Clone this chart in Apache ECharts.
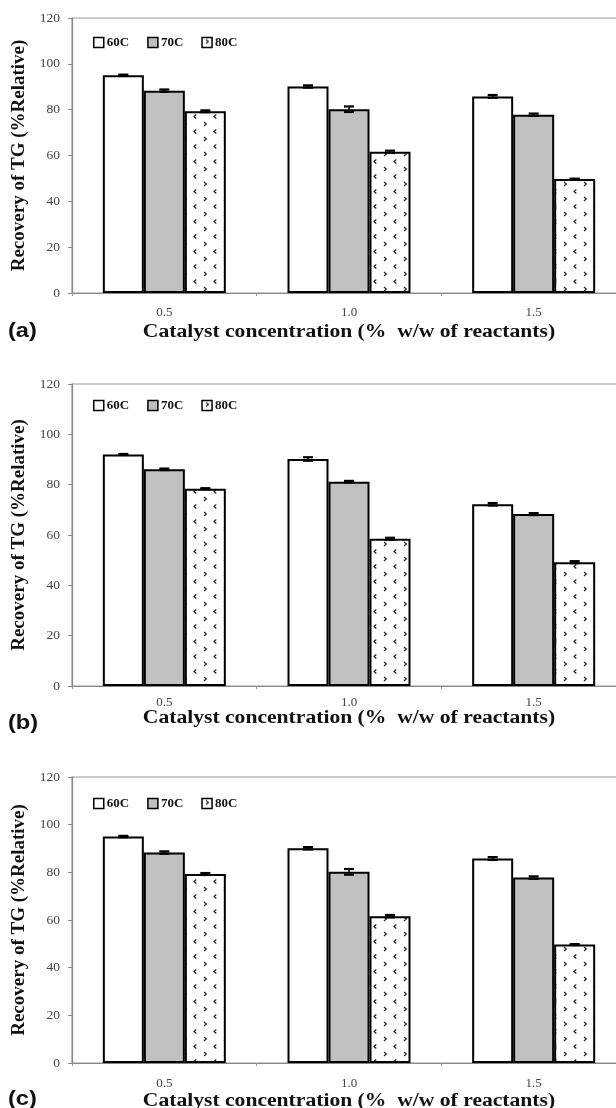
<!DOCTYPE html>
<html><head><meta charset="utf-8">
<script src="https://cdn.jsdelivr.net/npm/echarts@6/dist/echarts.min.js"></script>
<style>html,body{margin:0;padding:0;background:#fff}#c{width:616px;height:1108px}</style>
</head><body><div id="c"></div>
<script>
// ---- data ----
const categories = ['0.5', '1.0', '1.5'];
const seriesNames = ['60C', '70C', '80C'];
const yMin = 0, yMax = 120, yStep = 20;
const panelLabels = ['(a)', '(b)', '(c)'];
const xTitle = 'Catalyst concentration (%  w/w of reactants)';
const yTitle = 'Recovery of TG (%Relative)';

// panel (a)
const a60 = [95.0, 90.1, 85.8];
const a70 = [88.3, 80.2, 77.8];
const a80 = [79.3, 61.6, 49.7];
const a60Err = [0.3, 0.5, 0.6];
const a70Err = [0.5, 1.2, 0.5];
const a80Err = [0.4, 0.5, 0.2];
// panel (b)
const b60 = [92.0, 90.2, 72.2];
const b70 = [86.1, 81.2, 68.3];
const b80 = [78.4, 58.5, 49.2];
const b60Err = [0.2, 0.7, 0.5];
const b70Err = [0.3, 0.3, 0.4];
const b80Err = [0.2, 0.4, 0.4];
// panel (c)
const c60 = [95.0, 90.1, 85.8];
const c70 = [88.3, 80.2, 77.8];
const c80 = [79.3, 61.6, 49.7];
const c60Err = [0.3, 0.5, 0.6];
const c70Err = [0.5, 1.2, 0.5];
const c80Err = [0.4, 0.5, 0.2];

// ---- styling ----
const SERIF = 'Liberation Serif';
const GRID_LEFT = 72, GRID_W = 554;
const grids = [
  {top: 18, height: 275, titleY: 332, legendTop: 31, labelY: 331, catMargin: 13},
  {top: 384, height: 302, titleY: 718, legendTop: 394, labelY: 723, catMargin: 10},
  {top: 777, height: 286, titleY: 1101, legendTop: 792, labelY: 1099, catMargin: 14}
];
const BAR_W = 41;

function makePattern() {
  const c = document.createElement('canvas');
  c.width = 20; c.height = 15;
  const g = c.getContext('2d');
  g.fillStyle = '#fff'; g.fillRect(0, 0, 20, 15);
  g.strokeStyle = '#222'; g.lineWidth = 1.2;
  g.beginPath(); g.moveTo(4, 2); g.lineTo(6.3, 4); g.lineTo(4, 6); g.stroke();
  g.beginPath(); g.moveTo(16.3, 9.5); g.lineTo(14, 11.5); g.lineTo(16.3, 13.5); g.stroke();
  return c;
}
const pattern = {image: makePattern(), repeat: 'repeat'};
const fills = ['#ffffff', '#c0c0c0', pattern];

const panels = [
  {vals: [a60, a70, a80], errs: [a60Err, a70Err, a80Err]},
  {vals: [b60, b70, b80], errs: [b60Err, b70Err, b80Err]},
  {vals: [c60, c70, c80], errs: [c60Err, c70Err, c80Err]}
];

function errSeries(vals, errs, k, gi) {
  const offset = (k - 1) * BAR_W;
  return {
    type: 'custom', xAxisIndex: gi, yAxisIndex: gi, z: 10, silent: true,
    data: vals.map((v, i) => [i, v, errs[i]]),
    renderItem: function (params, api) {
      const ci = api.value(0), v = api.value(1), e = api.value(2);
      const top = api.coord([ci, v + e]), bot = api.coord([ci, v - e]);
      const x = top[0] + offset, hw = 5;
      return {type: 'group', children: [
        {type: 'line', shape: {x1: x, y1: top[1], x2: x, y2: bot[1]}, style: {stroke: '#000', lineWidth: 1.5}},
        {type: 'line', shape: {x1: x - hw, y1: top[1], x2: x + hw, y2: top[1]}, style: {stroke: '#000', lineWidth: 2.2}},
        {type: 'line', shape: {x1: x - hw, y1: bot[1], x2: x + hw, y2: bot[1]}, style: {stroke: '#000', lineWidth: 2.2}}
      ]};
    }
  };
}

const option = {
  animation: false,
  backgroundColor: '#fff',
  grid: grids.map(g => ({left: GRID_LEFT, width: GRID_W, top: g.top, height: g.height, show: true,
    outerBoundsMode: 'none', containLabel: false,
    borderColor: '#999', borderWidth: 1.2, backgroundColor: 'transparent'})),
  xAxis: grids.map((g, i) => ({
    type: 'category', gridIndex: i, data: categories,
    axisLine: {lineStyle: {color: '#888', width: 1.2}},
    axisTick: {show: true, length: 3, lineStyle: {color: '#999'}},
    axisLabel: {fontFamily: SERIF, fontSize: 13, color: '#444', margin: g.catMargin}
  })),
  yAxis: grids.map((g, i) => ({
    type: 'value', gridIndex: i, min: yMin, max: yMax, interval: yStep,
    name: yTitle, nameLocation: 'middle', nameGap: 43,
    nameTextStyle: {fontFamily: SERIF, fontWeight: 'bold', fontSize: 19, color: '#111'},
    axisLine: {show: true, lineStyle: {color: '#888', width: 1.2}},
    axisTick: {show: true, length: 4, lineStyle: {color: '#888'}},
    splitLine: {show: false},
    axisLabel: {fontFamily: SERIF, fontSize: 13.5, color: '#444', margin: 12}
  })),
  legend: grids.map(g => ({
    left: 88, top: g.legendTop, itemWidth: 10, itemHeight: 10, itemGap: 18,
    icon: 'rect', data: seriesNames,
    itemStyle: {borderColor: '#000', borderWidth: 1.5},
    textStyle: {fontFamily: SERIF, fontWeight: 'bold', fontSize: 13, color: '#111', padding: [0, 0, 0, -2]}
  })),
  graphic: grids.flatMap((g, i) => ([
    {type: 'text', x: 8, y: g.labelY, scaleX: 1.18,
      style: {text: panelLabels[i], font: 'bold 20px "Liberation Sans"', fill: '#111',
        align: 'left', verticalAlign: 'middle'}},
    {type: 'text', x: GRID_LEFT + GRID_W / 2, y: g.titleY, scaleX: 1.2,
      style: {text: xTitle, font: 'bold 18px "Liberation Serif"', fill: '#111',
        align: 'center', verticalAlign: 'middle'}}
  ])),
  series: []
};

panels.forEach((p, gi) => {
  p.vals.forEach((vals, k) => {
    option.series.push({
      type: 'bar', name: seriesNames[k], xAxisIndex: gi, yAxisIndex: gi,
      data: vals, barWidth: BAR_W, barGap: '0%',
      itemStyle: {color: fills[k], borderColor: '#000', borderWidth: 2}
    });
  });
  p.vals.forEach((vals, k) => option.series.push(errSeries(vals, p.errs[k], k, gi)));
});

const chart = echarts.init(document.getElementById('c'), null, {renderer: 'canvas'});
chart.setOption(option);
</script>
</body></html>
